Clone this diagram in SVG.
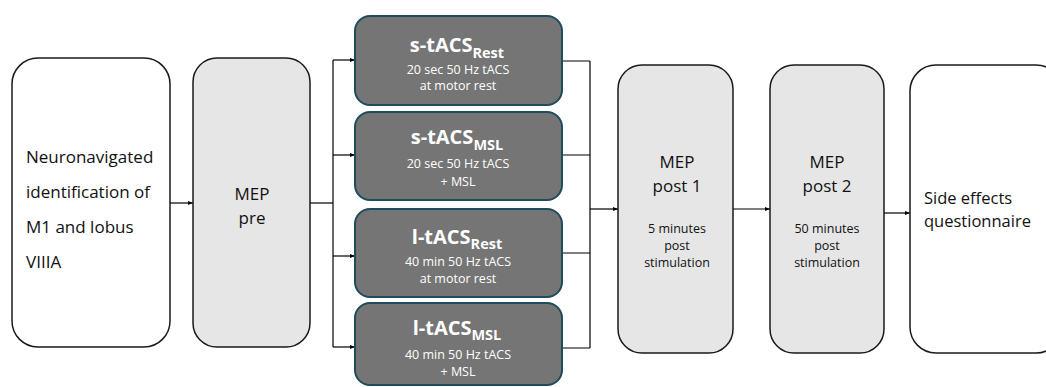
<svg xmlns="http://www.w3.org/2000/svg" width="1046" height="387" viewBox="0 0 1046 387">
<defs>
<marker id="ah" viewBox="0 0 10 10" refX="10" refY="5" markerWidth="5" markerHeight="5" orient="auto" markerUnits="userSpaceOnUse">
<path d="M0,1 L10,5 L0,9 z" fill="#000"/>
</marker>
<style>
.wb{fill:#fff;stroke:#1a1a1a;stroke-width:1.5}
.gb{fill:#e6e6e6;stroke:#1a1a1a;stroke-width:1.5}
.db{fill:#757575;stroke:#1f4b5c;stroke-width:2}
.t{font-family:"Open Sans","Noto Sans",sans-serif;fill:#111}
.big{font-size:17px}
.sm{font-size:12.5px}
.tw{font-family:"Open Sans","Noto Sans",sans-serif;fill:#fff}
.ttl{font-size:20px;font-weight:bold}
.sub{font-size:14.5px;font-weight:bold}
.st{font-size:12.5px}
.c{fill:none;stroke:#000;stroke-width:1.2}
</style>
</defs>
<rect width="1046" height="387" fill="#fff"/>
<g id="connectors">
<line class="c" x1="170" y1="203" x2="193" y2="203" marker-end="url(#ah)"/>
<path class="c" d="M310,203 H333"/>
<path class="c" d="M333,60 V347"/>
<line class="c" x1="333" y1="60" x2="355" y2="60" marker-end="url(#ah)"/>
<line class="c" x1="333" y1="155" x2="355" y2="155" marker-end="url(#ah)"/>
<line class="c" x1="333" y1="256" x2="355" y2="256" marker-end="url(#ah)"/>
<line class="c" x1="333" y1="347" x2="355" y2="347" marker-end="url(#ah)"/>
<path class="c" d="M562,61 H590 M562,155 H590 M562,253 H590 M562,348 H590 M590,61 V348"/>
<line class="c" x1="590" y1="209" x2="618" y2="209" marker-end="url(#ah)"/>
<line class="c" x1="733" y1="209" x2="770" y2="209" marker-end="url(#ah)"/>
<line class="c" x1="884" y1="213" x2="910" y2="213" marker-end="url(#ah)"/>
</g>
<g id="n1">
<rect class="wb" x="12" y="58" width="158" height="289" rx="26"/>
<text class="t big" x="26" y="163">Neuronavigated</text>
<text class="t big" x="26" y="198">identification of</text>
<text class="t big" x="26" y="233">M1 and lobus</text>
<text class="t big" x="26" y="268">VIIIA</text>
</g>
<g id="n2">
<rect class="gb" x="193" y="58" width="117" height="289" rx="24"/>
<text class="t big" x="252" y="200" text-anchor="middle">MEP</text>
<text class="t big" x="252" y="224" text-anchor="middle">pre</text>
</g>
<g id="n3">
<rect class="db" x="355" y="16" width="207" height="89" rx="15"/>
<text class="tw" x="457" y="52" text-anchor="middle"><tspan class="ttl">s-tACS</tspan><tspan class="sub" dy="6">Rest</tspan></text>
<text class="tw st" x="458" y="74" text-anchor="middle">20 sec 50 Hz tACS</text>
<text class="tw st" x="458" y="90" text-anchor="middle">at motor rest</text>
</g>
<g id="n4">
<rect class="db" x="355" y="112" width="207" height="88" rx="15"/>
<text class="tw" x="457" y="144" text-anchor="middle"><tspan class="ttl">s-tACS</tspan><tspan class="sub" dy="6">MSL</tspan></text>
<text class="tw st" x="458" y="168" text-anchor="middle">20 sec 50 Hz tACS</text>
<text class="tw st" x="458" y="186" text-anchor="middle">+ MSL</text>
</g>
<g id="n5">
<rect class="db" x="355" y="209" width="207" height="88" rx="15"/>
<text class="tw" x="457" y="244" text-anchor="middle"><tspan class="ttl">l-tACS</tspan><tspan class="sub" dy="5">Rest</tspan></text>
<text class="tw st" x="458" y="266" text-anchor="middle">40 min 50 Hz tACS</text>
<text class="tw st" x="458" y="283" text-anchor="middle">at motor rest</text>
</g>
<g id="n6">
<rect class="db" x="355" y="303" width="207" height="82" rx="15"/>
<text class="tw" x="457" y="335" text-anchor="middle"><tspan class="ttl">l-tACS</tspan><tspan class="sub" dy="5">MSL</tspan></text>
<text class="tw st" x="458" y="359" text-anchor="middle">40 min 50 Hz tACS</text>
<text class="tw st" x="458" y="376" text-anchor="middle">+ MSL</text>
</g>
<g id="n7">
<rect class="gb" x="618" y="65" width="115" height="288" rx="24"/>
<text class="t big" x="677" y="168" text-anchor="middle">MEP</text>
<text class="t big" x="677" y="192" text-anchor="middle">post 1</text>
<text class="t sm" x="677" y="233" text-anchor="middle">5 minutes</text>
<text class="t sm" x="677" y="250" text-anchor="middle">post</text>
<text class="t sm" x="677" y="267" text-anchor="middle">stimulation</text>
</g>
<g id="n8">
<rect class="gb" x="770" y="65" width="114" height="288" rx="24"/>
<text class="t big" x="827" y="168" text-anchor="middle">MEP</text>
<text class="t big" x="827" y="192" text-anchor="middle">post 2</text>
<text class="t sm" x="827" y="233" text-anchor="middle">50 minutes</text>
<text class="t sm" x="827" y="250" text-anchor="middle">post</text>
<text class="t sm" x="827" y="267" text-anchor="middle">stimulation</text>
</g>
<g id="n9">
<rect class="wb" x="910" y="65" width="152" height="288" rx="26"/>
<text class="t" style="font-size:16.5px" x="924" y="204">Side effects</text>
<text class="t" style="font-size:16.5px" x="924" y="227">questionnaire</text>
</g>
</svg>
